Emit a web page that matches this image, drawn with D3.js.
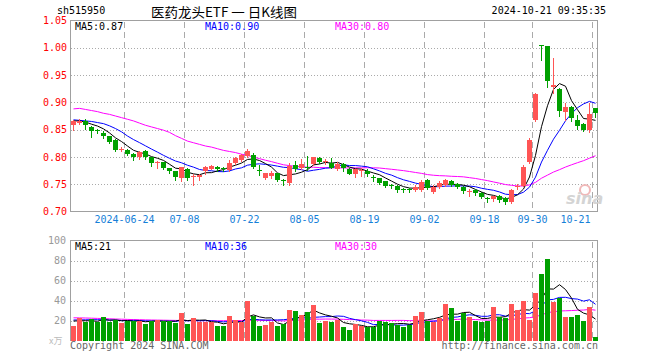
<!DOCTYPE html>
<html><head><meta charset="utf-8">
<script src="https://cdn.jsdelivr.net/npm/d3@7"></script>
<style>body{margin:0;background:#fff} svg{display:block}</style>
</head><body><svg id="c" width="660" height="360"></svg>
<script>
const dates = ["06-11","06-12","06-13","06-14","06-17","06-18","06-19","06-20","06-21","06-24","06-25","06-26","06-27","06-28",
"07-01","07-02","07-03","07-04","07-05","07-08","07-09","07-10","07-11","07-12","07-15","07-16","07-17","07-18","07-19","07-22","07-23","07-24","07-25","07-26","07-29","07-30","07-31",
"08-01","08-02","08-05","08-06","08-07","08-08","08-09","08-12","08-13","08-14","08-15","08-16","08-19","08-20","08-21","08-22","08-23","08-26","08-27","08-28","08-29","08-30",
"09-02","09-03","09-04","09-05","09-06","09-09","09-10","09-11","09-12","09-13","09-18","09-19","09-20","09-23","09-24","09-25","09-26","09-27","09-30",
"10-08","10-09","10-10","10-11","10-14","10-15","10-16","10-17","10-18","10-21"];
const open = [0.859,0.863,0.866,0.855,0.849,0.844,0.838,0.831,0.813,0.813, 0.806,0.799,0.811,0.799,0.789,0.790,0.779,0.774,0.761,0.778, 0.763,0.763,0.774,0.778,0.781,0.780,0.776,0.789,0.794,0.801, 0.804,0.776,0.762,0.765,0.770,0.758,0.753,0.786,0.779,0.781, 0.787,0.798,0.790,0.789,0.778,0.787,0.778,0.769,0.774,0.775, 0.764,0.761,0.755,0.749,0.747,0.741,0.741,0.740,0.740,0.758, 0.735,0.745,0.749,0.756,0.751,0.745,0.736,0.739,0.734,0.724, 0.722,0.729,0.725,0.717,0.744,0.747,0.791,0.868,1.005,1.003, 0.929,0.925,0.883,0.891,0.868,0.860,0.850,0.889];
const high = [0.868,0.869,0.869,0.856,0.851,0.847,0.839,0.832,0.818,0.814, 0.807,0.811,0.812,0.800,0.792,0.791,0.780,0.775,0.782,0.780, 0.769,0.769,0.783,0.786,0.783,0.782,0.795,0.800,0.806,0.814, 0.808,0.786,0.771,0.774,0.771,0.760,0.789,0.793,0.797,0.802, 0.800,0.799,0.797,0.798,0.790,0.788,0.780,0.778,0.779,0.777, 0.766,0.762,0.756,0.751,0.748,0.743,0.743,0.748,0.758,0.760, 0.748,0.756,0.760,0.758,0.753,0.746,0.742,0.741,0.735,0.726, 0.729,0.731,0.726,0.741,0.750,0.786,0.834,0.918,1.006,1.004, 0.981,0.926,0.899,0.893,0.876,0.862,0.899,0.890];
const low = [0.850,0.861,0.852,0.837,0.843,0.835,0.826,0.811,0.811,0.803, 0.795,0.796,0.797,0.784,0.780,0.777,0.771,0.757,0.755,0.758, 0.748,0.757,0.768,0.777,0.775,0.775,0.774,0.787,0.792,0.800, 0.779,0.767,0.759,0.762,0.755,0.749,0.748,0.775,0.777,0.776, 0.786,0.789,0.787,0.779,0.776,0.775,0.768,0.764,0.765,0.765, 0.756,0.750,0.745,0.743,0.736,0.735,0.736,0.737,0.738,0.741, 0.734,0.743,0.747,0.746,0.743,0.733,0.728,0.730,0.725,0.717, 0.719,0.718,0.714,0.716,0.741,0.746,0.789,0.866,0.977,0.928, 0.918,0.875,0.868,0.866,0.852,0.848,0.845,0.873];
const close = [0.865,0.865,0.858,0.848,0.847,0.839,0.828,0.813,0.814,0.806, 0.800,0.809,0.799,0.789,0.791,0.780,0.774,0.763,0.782,0.761, 0.765,0.766,0.781,0.783,0.777,0.777,0.789,0.798,0.803,0.810, 0.781,0.775,0.770,0.771,0.757,0.756,0.783,0.777,0.787,0.780, 0.800,0.791,0.792,0.780,0.787,0.779,0.769,0.777,0.776,0.769, 0.762,0.753,0.747,0.748,0.740,0.740,0.740,0.745,0.754,0.743, 0.745,0.752,0.758,0.749,0.745,0.737,0.738,0.733,0.726,0.723, 0.728,0.721,0.717,0.740,0.747,0.781,0.831,0.915,1.003,0.939, 0.931,0.884,0.891,0.871,0.856,0.850,0.878,0.880];
const volume = [15,22.3,19,21.7,18.3,24,18.3,20.7,17.3,20, 20,20,16.3,20,21,19.3,19.3,17.3,27.3,16.3, 22.3,18.3,18.3,18.3,14.3,14.3,24.3,21,18.3,40, 24.3,14.3,15.7,19,14.3,16.7,31,30,25.7,29, 36,17.3,20,19,20.3,13.3,11,16.7,14.3,13.3, 13.3,19.3,18.3,17.7,15.7,14,15.7,25,29,20, 19,22.7,37,33,20,27.3,24,20,19,20, 34,23.3,23,37,31,40,21,48,67,82, 39,43,24,24,26,20,34,3];
const ma5Head = [0.866,0.866,0.864,0.860];
const ma10Head = [0.868,0.867,0.866,0.865,0.863,0.861,0.857,0.852,0.846];
const ma30Head = [0.888,0.889,0.887,0.885,0.883,0.880,0.878,0.875,0.872,0.869,0.866,0.862,0.858,0.855,0.852,0.849,0.845,0.839,0.834,0.829,0.826,0.823,0.820,0.818,0.815,0.812,0.810,0.808,0.805];
const volMa5Head = [19.5,19.6,19.8,19.6];
const volMa10Head = [20.5,20.6,20.7,20.8,20.8,20.7,20.5,20.3,20.0];
const volMa30Head = [22.7,22.6,22.5,22.3,22.1,21.9,21.7,21.5,21.3,21.1,20.9,20.8,20.6,20.5,20.4,20.3,20.2,20.1,20.0,19.9,19.9,19.8,19.8,19.8,19.8,19.8,19.9,19.9,20.0];
const priceTicks = [0.70,0.75,0.80,0.85,0.90,0.95,1.00,1.05];
const volTicks = [20,40,60,80,100];
const axisDates = ["06-24","07-08","07-22","08-05","08-19","09-02","09-18","09-30","10-21"];
const axisLabels = ["2024-06-24","07-08","07-22","08-05","08-19","09-02","09-18","09-30","10-21"];

const RED = "#ff5555", GREEN = "#00a000", GRID = "#aaaaaa", MONO = "'DejaVu Sans Mono', monospace";
const svg = d3.select("#c");
const n = close.length;
const L = 70, R = 598;
const x = d3.scaleBand().domain(d3.range(n)).range([L, R]).paddingInner(0).paddingOuter(0);
const xl = d3.scaleLinear().domain([0, n]).range([L, R]);
const y = d3.scaleLinear().domain([0.70, 1.05]).range([211.5, 20.5]);
const yv = d3.scaleLinear().domain([0, 100]).range([340.5, 240.5]);
const cx = i => x(i) + 3.5;
const tickIdx = axisDates.map(d => dates.indexOf(d));

function ma(arr, w, head) {
  return arr.map((_, i) => i < w - 1 ? head[i] : d3.mean(arr.slice(i - w + 1, i + 1)));
}

// ---------- header ----------
svg.append("text").attr("x", 57).attr("y", 14).attr("font-family", MONO).attr("font-size", 10).attr("fill", "#000").text("sh515950");
svg.append("text").attr("x", 151).attr("y", 16.5).attr("font-family", "'Noto Sans CJK SC', sans-serif").attr("font-size", 13)
  .attr("textLength", 146).attr("lengthAdjust", "spacingAndGlyphs").attr("fill", "#000").text("医药龙头ETF 一 日K线图");
svg.append("text").attr("x", 606).attr("y", 14).attr("text-anchor", "end").attr("font-family", MONO).attr("font-size", 10).attr("fill", "#000").text("2024-10-21 09:35:35");

// ---------- panels ----------
function panel(yTop, yBot, gridVals, ys) {
  const g = svg.append("g").attr("shape-rendering", "crispEdges");
  g.selectAll("line.h").data(gridVals).join("line")
    .attr("x1", L + 1).attr("x2", R).attr("y1", d => Math.round(ys(d)) + 0.5).attr("y2", d => Math.round(ys(d)) + 0.5)
    .attr("stroke", GRID).attr("stroke-dasharray", "1,2");
  g.selectAll("line.v").data(tickIdx).join("line")
    .attr("x1", d => Math.round(xl(d)) + 0.5).attr("x2", d => Math.round(xl(d)) + 0.5)
    .attr("y1", yTop + 1).attr("y2", yBot)
    .attr("stroke", GRID).attr("stroke-dasharray", "6,4");
  return g;
}
const pg = panel(20.5, 211.5, [0.75,0.80,0.85,0.90,0.95,1.00], y);
pg.append("rect").attr("x", L + 0.5).attr("y", 20.5).attr("width", R - L - 1).attr("height", 191).attr("fill", "none").attr("stroke", "#a0a0a0");
const vg = panel(240.5, 340.5, [20,40,60,80], yv);
vg.append("path").attr("d", `M${L+0.5},341V240.5H${R-0.5}V341`).attr("fill", "none").attr("stroke", "#a0a0a0");

// ---------- axes ----------
const ay = svg.append("g").attr("transform", `translate(${L - 3},0)`)
  .call(d3.axisLeft(y).tickValues(priceTicks).tickFormat(d3.format(".2f")).tickSize(0).tickPadding(0));
ay.select(".domain").remove();
ay.selectAll("text").attr("font-family", MONO).attr("font-size", 10).attr("fill", "#ff0000");

const av = svg.append("g").attr("transform", `translate(${L - 4},0)`)
  .call(d3.axisLeft(yv).tickValues(volTicks).tickSize(0).tickPadding(0));
av.select(".domain").remove();
av.selectAll("text").attr("font-family", MONO).attr("font-size", 10).attr("fill", "#999");
svg.append("text").attr("x", 49).attr("y", 344).attr("font-family", "'Noto Sans CJK SC', sans-serif").attr("font-size", 9).attr("fill", "#bbb").text("x万");

const ax = svg.append("g").attr("transform", "translate(0,216)")
  .call(d3.axisBottom(xl).tickValues(tickIdx).tickFormat((d, i) => axisLabels[i]).tickSize(0).tickPadding(0));
ax.select(".domain").remove();
ax.selectAll("text").attr("font-family", MONO).attr("font-size", 10).attr("fill", "#1580d8").attr("dy", "0.71em");
ax.selectAll(".tick").filter((d, i) => i === tickIdx.length - 1).select("text").attr("text-anchor", "end").attr("dx", -2).attr("x", 0);

// ---------- price MAs ----------
const lineP = d3.line().x((d, i) => cx(i)).y(d => y(d));
const ma5 = ma(close, 5, ma5Head), ma10 = ma(close, 10, ma10Head), ma30 = ma(close, 30, ma30Head);
[[ma30, "#ff00ff"], [ma10, "#0000ff"], [ma5, "#000000"]].forEach(([d, c]) =>
  svg.append("path").datum(d).attr("d", lineP).attr("fill", "none").attr("stroke", c).attr("stroke-width", 1));

// ---------- candles ----------
const cg = svg.append("g").attr("shape-rendering", "crispEdges");
const idx = d3.range(n);
const col = i => close[i] >= open[i] ? RED : GREEN;
cg.selectAll("line.w").data(idx).join("line")
  .attr("x1", cx).attr("x2", cx)
  .attr("y1", i => Math.round(y(high[i]))).attr("y2", i => Math.round(y(low[i])) + 1)
  .attr("stroke", col);
cg.selectAll("rect.b").data(idx).join("rect")
  .attr("x", i => x(i) + 1).attr("width", 5)
  .attr("y", i => Math.round(y(Math.max(open[i], close[i]))))
  .attr("height", i => Math.max(1, Math.round(y(Math.min(open[i], close[i]))) - Math.round(y(Math.max(open[i], close[i])))))
  .attr("fill", col);

// ---------- volume ----------
const lineV = d3.line().x((d, i) => cx(i)).y(d => yv(d));
const vma5 = ma(volume, 5, volMa5Head), vma10 = ma(volume, 10, volMa10Head), vma30 = ma(volume, 30, volMa30Head);
[[vma30, "#ff00ff"], [vma10, "#0000ff"], [vma5, "#000000"]].forEach(([d, c]) =>
  svg.append("path").datum(d).attr("d", lineV).attr("fill", "none").attr("stroke", c).attr("stroke-width", 1));
svg.append("g").attr("shape-rendering", "crispEdges").selectAll("rect").data(idx).join("rect")
  .attr("x", i => x(i) + 1).attr("width", 5)
  .attr("y", i => Math.round(yv(volume[i])))
  .attr("height", i => 341 - Math.round(yv(volume[i])))
  .attr("fill", col);

// ---------- MA legends ----------
const fmt2 = d3.format(".2f"), fmt0 = d3.format(".0f");
const legP = [["MA5:" + fmt2(ma5[n-1]), "#000", 75], ["MA10:" + fmt2(ma10[n-1]), "#0000ff", 205], ["MA30:" + fmt2(ma30[n-1]), "#ff00ff", 335]];
legP.forEach(([t, c, xx]) => svg.append("text").attr("x", xx).attr("y", 29.5).attr("font-family", MONO).attr("font-size", 10).attr("fill", c).text(t));
const legV = [["MA5:" + fmt0(vma5[n-1]), "#000", 75], ["MA10:" + fmt0(vma10[n-1]), "#0000ff", 205], ["MA30:" + fmt0(vma30[n-1]), "#ff00ff", 335]];
legV.forEach(([t, c, xx]) => svg.append("text").attr("x", xx).attr("y", 250).attr("font-family", MONO).attr("font-size", 10).attr("fill", c).text(t));

// ---------- watermark & footer ----------
svg.append("circle").attr("cx", 585).attr("cy", 190).attr("r", 5).attr("fill", "none").attr("stroke", "#f0b8b8").attr("stroke-width", 2);
svg.append("text").attr("x", 566).attr("y", 204).attr("font-family", "'DejaVu Sans', sans-serif").attr("font-size", 16)
  .attr("font-weight", "bold").attr("font-style", "italic").attr("fill", "#d4d4d4").text("sina");
svg.append("text").attr("x", 70).attr("y", 349).attr("font-family", MONO).attr("font-size", 10).attr("fill", "#666").text("Copyright 2024 SINA.COM");
svg.append("text").attr("x", 598).attr("y", 349).attr("text-anchor", "end").attr("font-family", MONO).attr("font-size", 10).attr("fill", "#666").text("http://finance.sina.com.cn");
</script></body></html>
